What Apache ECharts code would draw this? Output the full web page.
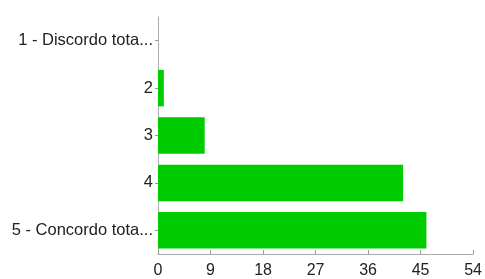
<!DOCTYPE html>
<html><head><meta charset="utf-8">
<script src="https://cdn.jsdelivr.net/npm/echarts@6/dist/echarts.min.js"></script>
<style>html,body{margin:0;padding:0;background:#fff}#c{width:485px;height:279px}</style>
</head><body><div id="c"></div>
<script>
var categories = ["1 - Discordo tota...", "2", "3", "4", "5 - Concordo tota..."];
var values = [0, 1, 8, 42, 46];
var xMin = 0, xMax = 54, xStep = 9;

var chart = echarts.init(document.getElementById('c'), null, {renderer: 'canvas'});
chart.setOption({
  animation: false,
  grid: {left: 158, right: 10, top: 17, bottom: 24, containLabel: false},
  xAxis: {
    type: 'value', min: xMin, max: xMax, interval: xStep,
    splitLine: {show: false},
    axisLine: {show: true, lineStyle: {color: '#aaa'}},
    axisTick: {show: true, length: 4, inside: true, lineStyle: {color: '#999'}},
    axisLabel: {color: '#222', fontFamily: 'Liberation Sans', fontSize: 16, margin: 9}
  },
  yAxis: {
    type: 'category', data: categories, inverse: true,
    axisLine: {show: true, lineStyle: {color: '#aaa'}},
    axisTick: {show: true, length: 3, alignWithLabel: true, lineStyle: {color: '#999'}},
    axisLabel: {color: '#222', fontFamily: 'Liberation Sans', fontSize: 16.5, margin: 5}
  },
  series: [{
    type: 'bar', data: values, barWidth: '77%',
    itemStyle: {color: '#00cc00'}
  }]
});
</script></body></html>
